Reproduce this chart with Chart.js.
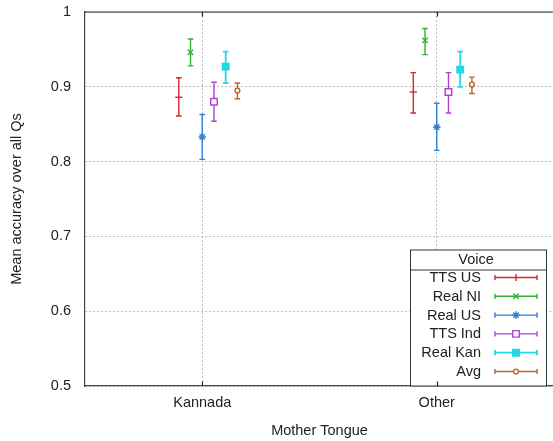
<!DOCTYPE html>
<html>
<head>
<meta charset="utf-8">
<script src="https://cdn.jsdelivr.net/npm/chart.js@4.4.1/dist/chart.umd.min.js"></script>
<style>
  html, body { margin: 0; padding: 0; background: #fff; overflow: hidden; }
  canvas { display: block; }
</style>
</head>
<body>
<canvas id="c" width="554" height="441"></canvas>
<script>
// Mean accuracy per voice, grouped by listener mother tongue, with error ranges.
const categories = ['Kannada', 'Other'];
const voices = ['TTS US', 'Real NI', 'Real US', 'TTS Ind', 'Real Kan', 'Avg'];

const ttsUsMean   = [0.886, 0.893];
const ttsUsLow    = [0.861, 0.865];
const ttsUsHigh   = [0.912, 0.919];

const realNiMean  = [0.946, 0.962];
const realNiLow   = [0.928, 0.943];
const realNiHigh  = [0.964, 0.978];

const realUsMean  = [0.833, 0.846];
const realUsLow   = [0.803, 0.815];
const realUsHigh  = [0.863, 0.878];

const ttsIndMean  = [0.880, 0.893];
const ttsIndLow   = [0.854, 0.865];
const ttsIndHigh  = [0.906, 0.919];

const realKanMean = [0.927, 0.923];
const realKanLow  = [0.905, 0.900];
const realKanHigh = [0.947, 0.947];

const avgMean     = [0.895, 0.903];
const avgLow      = [0.884, 0.891];
const avgHigh     = [0.905, 0.913];

const yTickValues = [0.5, 0.6, 0.7, 0.8, 0.9, 1];
const yTickLabels = ['0.5', '0.6', '0.7', '0.8', '0.9', '1'];

// Series table: values plus how each voice is drawn.
const seriesValues = [
  { mean: ttsUsMean,   low: ttsUsLow,   high: ttsUsHigh },
  { mean: realNiMean,  low: realNiLow,  high: realNiHigh },
  { mean: realUsMean,  low: realUsLow,  high: realUsHigh },
  { mean: ttsIndMean,  low: ttsIndLow,  high: ttsIndHigh },
  { mean: realKanMean, low: realKanLow, high: realKanHigh },
  { mean: avgMean,     low: avgLow,     high: avgHigh }
];
const seriesStyles = [
  { color: '#d9262c', pointStyle: 'line',     radius: 3.6, fill: '#d9262c', width: 1.4, offset: -0.10, keyRotation: 90 },
  { color: '#35b035', pointStyle: 'crossRot', radius: 3.8, fill: '#35b035', width: 1.4, offset: -0.05, keyRotation: 0 },
  { color: '#2f7fcf', pointStyle: 'star',     radius: 3.8, fill: '#2f7fcf', width: 1.4, offset:  0.00, keyRotation: 0 },
  { color: '#b23fd6', pointStyle: 'rect',     radius: 4.6, fill: '#ffffff', width: 1.4, offset:  0.05, keyRotation: 0 },
  { color: '#22d8e6', pointStyle: 'rect',     radius: 4.3, fill: '#22d8e6', width: 1.8, offset:  0.10, keyRotation: 0 },
  { color: '#c0622c', pointStyle: 'circle',   radius: 2.4, fill: '#ffffff', width: 1.4, offset:  0.15, keyRotation: 0 }
];

const FONT = "'Liberation Sans', Arial, sans-serif";
const FONT_SIZE = 14.5;
const TEXT = '#222222';
const GRID = '#bcbcbc';

const datasets = voices.map((name, s) => {
  const st = seriesStyles[s];
  const v = seriesValues[s];
  return {
    label: name,
    data: categories.map((c, i) => ({ x: i + 1 + st.offset, y: v.mean[i] })),
    low: v.low,
    high: v.high,
    borderColor: st.color,
    backgroundColor: st.fill,
    pointStyle: st.pointStyle,
    pointRadius: st.radius,
    pointHoverRadius: st.radius,
    pointBorderWidth: st.width,
    barWidth: st.width,
    showLine: false
  };
});

// Vertical error bars with short caps, drawn under the point markers.
const errorBars = {
  id: 'errorBars',
  beforeDatasetsDraw(chart) {
    const ctx = chart.ctx;
    const xs = chart.scales.x, ys = chart.scales.y;
    chart.data.datasets.forEach((ds) => {
      ctx.save();
      ctx.strokeStyle = ds.borderColor;
      ctx.lineWidth = ds.barWidth;
      ds.data.forEach((p, i) => {
        const x = xs.getPixelForValue(p.x);
        const yl = ys.getPixelForValue(ds.low[i]);
        const yh = ys.getPixelForValue(ds.high[i]);
        const cap = 2.8;
        ctx.beginPath();
        ctx.moveTo(x, yl); ctx.lineTo(x, yh);
        ctx.moveTo(x - cap, yl); ctx.lineTo(x + cap, yl);
        ctx.moveTo(x - cap, yh); ctx.lineTo(x + cap, yh);
        ctx.stroke();
      });
      ctx.restore();
    });
  }
};

function marker(ctx, style, x, y) {
  ctx.save();
  ctx.strokeStyle = style.color;
  ctx.fillStyle = style.fill;
  ctx.lineWidth = style.width;
  if (Chart.helpers && Chart.helpers.drawPoint) {
    Chart.helpers.drawPoint(ctx, { pointStyle: style.pointStyle, radius: style.radius, rotation: style.keyRotation, borderWidth: style.width }, x, y);
  }
  ctx.restore();
}

// Frame top edge, inward tick marks and the boxed legend.
const frameAndLegend = {
  id: 'frameAndLegend',
  afterDraw(chart) {
    const ctx = chart.ctx;
    const a = chart.chartArea;
    const xs = chart.scales.x;

    // boxed legend in the lower right corner
    const boxRight = a.right - 8, boxLeft = boxRight - 136;
    const boxBottom = a.bottom, boxTop = boxBottom - 136.5;
    ctx.save();
    ctx.fillStyle = '#ffffff';
    ctx.fillRect(boxLeft, boxTop, boxRight - boxLeft, boxBottom - boxTop);
    ctx.strokeStyle = '#333333';
    ctx.lineWidth = 1;
    ctx.strokeRect(boxLeft + 0.5, boxTop + 0.5, boxRight - boxLeft, boxBottom - boxTop - 0.5);
    ctx.beginPath();
    ctx.moveTo(boxLeft, boxTop + 20.5); ctx.lineTo(boxRight, boxTop + 20.5);
    ctx.stroke();
    ctx.fillStyle = TEXT;
    ctx.font = FONT_SIZE + 'px ' + FONT;
    ctx.textBaseline = 'middle';
    ctx.textAlign = 'center';
    ctx.fillText('Voice', boxLeft + 66, boxTop + 10.5);
    const textRight = boxLeft + 71;
    const sampleL = boxLeft + 85, sampleR = boxLeft + 127;
    voices.forEach((name, s) => {
      const st = seriesStyles[s];
      const y = boxTop + 28 + s * 18.8;
      ctx.textAlign = 'right';
      ctx.fillStyle = TEXT;
      ctx.fillText(name, textRight, y + 0.5);
      ctx.strokeStyle = st.color;
      ctx.lineWidth = st.width;
      ctx.beginPath();
      ctx.moveTo(sampleL, y); ctx.lineTo(sampleR, y);
      ctx.moveTo(sampleL, y - 2.6); ctx.lineTo(sampleL, y + 2.6);
      ctx.moveTo(sampleR, y - 2.6); ctx.lineTo(sampleR, y + 2.6);
      ctx.stroke();
      marker(ctx, st, (sampleL + sampleR) / 2, y);
    });
    ctx.restore();

    // top frame line and short inward ticks at the category positions
    ctx.save();
    ctx.strokeStyle = '#222222';
    ctx.lineWidth = 1.2;
    ctx.beginPath();
    ctx.moveTo(a.left, a.top); ctx.lineTo(a.right, a.top);
    categories.forEach((c, i) => {
      const x = Math.round(xs.getPixelForValue(i + 1)) + 0.5;
      ctx.moveTo(x, a.top); ctx.lineTo(x, a.top + 4.5);
      ctx.moveTo(x, a.bottom); ctx.lineTo(x, a.bottom - 4.5);
    });
    ctx.stroke();
    ctx.restore();
  }
};

new Chart(document.getElementById('c'), {
  type: 'scatter',
  data: { datasets },
  options: {
    responsive: false,
    animation: false,
    devicePixelRatio: 1,
    layout: { autoPadding: false, padding: { top: 12, right: 0, left: 0, bottom: 0 } },
    plugins: { legend: { display: false }, tooltip: { enabled: false } },
    scales: {
      x: {
        type: 'linear',
        min: 0.5,
        max: 2.5,
        afterFit: s => { s.height = 55; s.paddingLeft = 0; s.paddingRight = 0; },
        afterBuildTicks: s => { s.ticks = categories.map((c, i) => ({ value: i + 1 })); },
        ticks: {
          padding: 8,
          color: TEXT,
          font: { family: FONT, size: FONT_SIZE },
          callback: v => categories[Math.round(v) - 1]
        },
        grid: { color: GRID, lineWidth: 1, drawTicks: false },
        border: { display: true, color: '#444444', width: 1.2, dash: [2, 2] },
        title: {
          display: true,
          text: 'Mother Tongue',
          color: TEXT,
          font: { family: FONT, size: FONT_SIZE },
          padding: { top: 0, bottom: 1 }
        }
      },
      y: {
        min: 0.5,
        max: 1,
        afterFit: s => { s.width = 85; s.paddingTop = 0; s.paddingBottom = 0; },
        afterBuildTicks: s => { s.ticks = yTickValues.map(v => ({ value: v })); },
        ticks: {
          padding: 14,
          color: TEXT,
          font: { family: FONT, size: FONT_SIZE },
          callback: v => yTickLabels[yTickValues.indexOf(v)]
        },
        grid: { color: GRID, lineWidth: 1, drawTicks: false },
        border: { display: true, color: '#444444', width: 1.2, dash: [2, 2] },
        title: {
          display: true,
          text: 'Mean accuracy over all Qs',
          color: TEXT,
          font: { family: FONT, size: FONT_SIZE },
          padding: { top: 8, bottom: 0 }
        }
      }
    }
  },
  plugins: [errorBars, frameAndLegend]
});
</script>
</body>
</html>
